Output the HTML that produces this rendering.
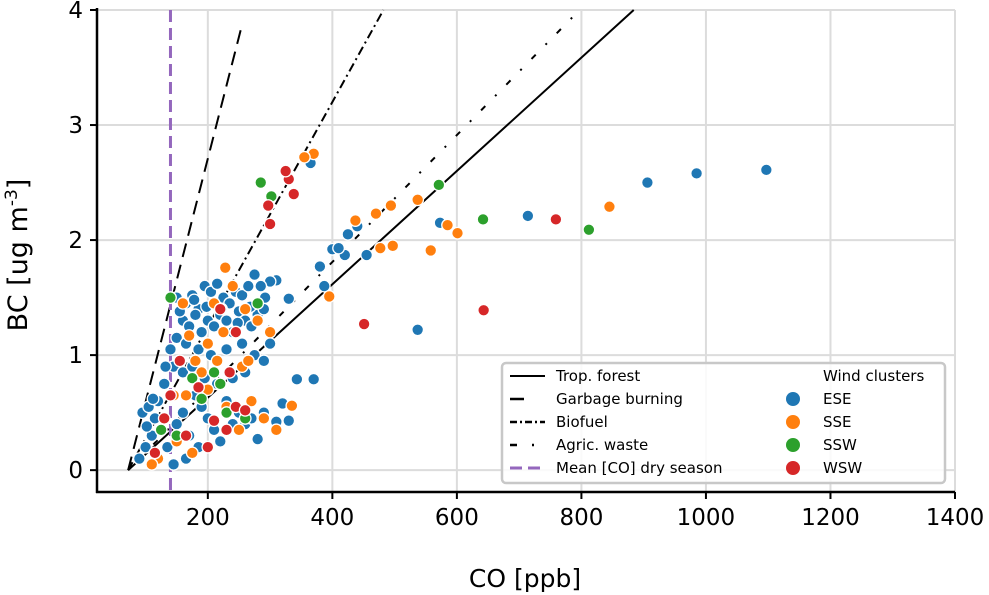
<!DOCTYPE html>
<html><head><meta charset="utf-8"><style>
body{margin:0;background:#fff}
svg{display:block;font-family:"DejaVu Sans","Liberation Sans",sans-serif}
</style></head><body>
<svg id="chart" width="989" height="595" viewBox="0 0 989 595" xmlns="http://www.w3.org/2000/svg">
<g id="grid"></g>
<g id="lines"></g>
<g id="points"></g>
<g id="axes"></g>
<text x="525" y="587" font-size="25" text-anchor="middle">CO [ppb]</text>
<text transform="translate(27,255) rotate(-90)" font-size="27" text-anchor="middle">BC [ug m<tspan font-size="17" dy="-10">-3</tspan><tspan dy="10">]</tspan></text>
<g>
<rect x="502" y="363" width="443" height="120" rx="4" fill="#fff" fill-opacity="0.85" stroke="#c8c8c8" stroke-width="2.5"/>
<line x1="510" y1="376" x2="545" y2="376" stroke="#000" stroke-width="2"/>
<text x="556" y="381" font-size="15">Trop. forest</text>
<line x1="510" y1="399" x2="524" y2="399" stroke="#000" stroke-width="2.5"/>
<text x="556" y="404" font-size="15">Garbage burning</text>
<line x1="510" y1="422" x2="545" y2="422" stroke="#000" stroke-width="2.5" stroke-dasharray="7,3,2,3"/>
<text x="556" y="427" font-size="15">Biofuel</text>
<line x1="510" y1="445" x2="545" y2="445" stroke="#000" stroke-width="2.5" stroke-dasharray="7,15,2,15"/>
<text x="556" y="450" font-size="15">Agric. waste</text>
<line x1="510" y1="468" x2="545" y2="468" stroke="#9467bd" stroke-width="3" stroke-dasharray="12,6"/>
<text x="556" y="473" font-size="15">Mean [CO] dry season</text>
<text x="823" y="381" font-size="15">Wind clusters</text>
<circle cx="793" cy="399" r="7" fill="#1f77b4"/><text x="823" y="404" font-size="15">ESE</text>
<circle cx="793" cy="422" r="7" fill="#ff7f0e"/><text x="823" y="427" font-size="15">SSE</text>
<circle cx="793" cy="445" r="7" fill="#2ca02c"/><text x="823" y="450" font-size="15">SSW</text>
<circle cx="793" cy="468" r="7" fill="#d62728"/><text x="823" y="473" font-size="15">WSW</text>
</g>
</svg>
<script>
const xTicks=[200,400,600,800,1000,1200,1400];
const yTicks=[0,1,2,3,4];
const clusters=["ESE","SSE","SSW","WSW"];
const clusterColors=["#1f77b4","#ff7f0e","#2ca02c","#d62728"];
const ratioNames=["Trop. forest","Garbage burning","Biofuel","Agric. waste"];
const ratioStart=[72,0];
const ratioEnd=[[884,4],[253,3.83],[482,4],[797,4]];
const meanCO=140;
const eseCO=[1097,985,906,714,573,537,400,343,370,330,387,380,420,410,440,425,455,365,310,300,150,165,175,185,195,205,215,225,235,245,255,265,275,285,160,170,180,190,200,210,220,230,240,250,260,270,280,290,150,165,185,205,230,255,275,140,145,160,175,195,215,240,260,290,300,90,100,110,95,105,115,120,130,125,135,150,160,170,180,190,200,210,220,230,250,260,280,290,310,320,330,165,145,185,270,240,155,178,198,222,248,268,292,132,112,102];
const eseBC=[2.61,2.58,2.5,2.21,2.15,1.22,1.92,0.79,0.79,1.49,1.6,1.77,1.87,1.93,2.12,2.05,1.87,2.67,1.65,1.64,1.5,1.45,1.52,1.4,1.6,1.55,1.62,1.5,1.45,1.55,1.52,1.6,1.7,1.6,1.3,1.25,1.35,1.2,1.3,1.25,1.35,1.3,1.2,1.38,1.3,1.25,1.35,1.4,1.15,1.1,1.05,1.0,1.05,1.1,1.0,1.05,0.9,0.85,0.9,0.8,0.75,0.8,0.85,0.95,1.1,0.1,0.2,0.3,0.5,0.55,0.45,0.6,0.75,0.35,0.2,0.4,0.5,0.3,0.65,0.55,0.45,0.35,0.25,0.6,0.5,0.4,0.27,0.5,0.42,0.58,0.43,0.1,0.05,0.2,0.45,0.4,1.38,1.48,1.42,1.4,1.28,1.42,1.5,0.9,0.62,0.38];
const sseCO=[845,601,585,558,497,477,537,494,470,437,395,370,355,120,110,150,165,180,190,200,215,225,240,228,260,280,300,170,160,210,230,250,270,290,310,335,200,175,145,255,265];
const sseBC=[2.29,2.06,2.13,1.91,1.95,1.93,2.35,2.3,2.23,2.17,1.51,2.75,2.72,0.1,0.05,0.25,0.65,0.95,0.85,1.1,0.95,1.2,1.6,1.76,1.4,1.3,1.2,1.17,1.45,1.45,0.55,0.35,0.6,0.45,0.35,0.56,0.7,0.15,0.65,0.9,0.95];
const sswCO=[812,642,571,302,285,140,210,220,230,260,175,150,125,190,280];
const sswBC=[2.09,2.18,2.48,2.38,2.5,1.5,0.85,0.75,0.5,0.45,0.8,0.3,0.35,0.62,1.45];
const wswCO=[759,643,451,300,297,338,330,325,140,115,130,155,185,200,210,230,245,260,235,245,220,165];
const wswBC=[2.18,1.39,1.27,2.14,2.3,2.4,2.53,2.6,0.65,0.15,0.45,0.95,0.72,0.2,0.43,0.35,0.55,0.52,0.85,1.2,1.4,0.3];

const NS="http://www.w3.org/2000/svg";
const X0=97,X1=955,Y0=492,Y1=10;
const xMin=22,xMax=1400,yMin=-0.19,yMax=4;
function sx(v){return X0+(v-xMin)/(xMax-xMin)*(X1-X0);}
function sy(v){return Y0-(v-yMin)/(yMax-yMin)*(Y0-Y1);}
function mk(tag,attrs,parent){const e=document.createElementNS(NS,tag);for(const k in attrs)e.setAttribute(k,attrs[k]);parent.appendChild(e);return e;}
const grid=document.getElementById('grid'),axes=document.getElementById('axes'),lines=document.getElementById('lines'),pts=document.getElementById('points');
xTicks.forEach(t=>{
  const g=mk('line',{x1:sx(t),x2:sx(t),y1:Y1,y2:Y0,stroke:'#dcdcdc','stroke-width':2},grid);
  
  
  const tk=mk('line',{x1:sx(t),x2:sx(t),y1:Y0,y2:Y0+7,stroke:'#000','stroke-width':2},axes);
  
  
  const l=mk('text',{x:sx(t),y:Y0+33,'font-size':23,'text-anchor':'middle'},axes);
  l.textContent=t;
  
  
});
yTicks.forEach(t=>{
  const g=mk('line',{x1:X0,x2:X1,y1:sy(t),y2:sy(t),stroke:'#dcdcdc','stroke-width':2},grid);
  
  
  const tk=mk('line',{x1:X0-7,x2:X0,y1:sy(t),y2:sy(t),stroke:'#000','stroke-width':2},axes);
  
  
  const l=mk('text',{x:X0-14,y:sy(t)+8,'font-size':23,'text-anchor':'end'},axes);
  l.textContent=t;
  
  
});
const sp1=mk('line',{x1:X0,x2:X0,y1:Y1-2,y2:Y0+1,stroke:'#000','stroke-width':2.5},axes);


const sp2=mk('line',{x1:X0-1,x2:X1,y1:Y0,y2:Y0,stroke:'#000','stroke-width':2.5},axes);



const sets=[[eseCO,eseBC],[sseCO,sseBC],[sswCO,sswBC],[wswCO,wswBC]];
sets.forEach((s,ci)=>{
  s[0].forEach((c,i)=>{
    const p=mk('circle',{cx:sx(c),cy:sy(s[1][i]),r:5.8,fill:clusterColors[ci],stroke:'#fff','stroke-width':1.3},pts);
    
    
  });
});
const dashes=['none','14,8','9,4,2,4','6,14,2,14'];
ratioEnd.forEach((e,i)=>{
  const l=mk('line',{x1:sx(ratioStart[0]),y1:sy(ratioStart[1]),x2:sx(e[0]),y2:sy(e[1]),stroke:'#000','stroke-width':2,'stroke-dasharray':dashes[i]},lines);
  
  
});
const ml=mk('line',{x1:sx(meanCO),x2:sx(meanCO),y1:Y1,y2:Y0,stroke:'#9467bd','stroke-width':3,'stroke-dasharray':'12,6'},lines);


</script>
</body></html>
